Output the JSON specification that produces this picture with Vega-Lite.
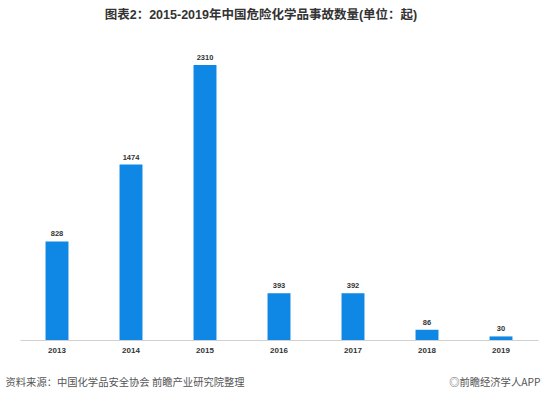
{
  "$schema": "https://vega.github.io/schema/vega-lite/v6.json",
  "width": 518,
  "height": 300,
  "autosize": "none",
  "padding": {"left": 20, "top": 40, "right": 6, "bottom": 54},
  "background": "white",
  "title": {
    "text": "图表2：2015-2019年中国危险化学品事故数量(单位：起)",
    "font": "Liberation Sans, Noto Sans CJK SC",
    "fontSize": 12.5,
    "fontWeight": "bold",
    "color": "#333333",
    "anchor": "middle",
    "dx": -18,
    "offset": 19
  },
  "config": {
    "view": {"stroke": null},
    "font": "Liberation Sans, Noto Sans CJK SC"
  },
  "data": {
    "values": [
      {"year": "2013", "count": 828},
      {"year": "2014", "count": 1474},
      {"year": "2015", "count": 2310},
      {"year": "2016", "count": 393},
      {"year": "2017", "count": 392},
      {"year": "2018", "count": 86},
      {"year": "2019", "count": 30}
    ]
  },
  "encoding": {
    "x": {
      "field": "year",
      "type": "nominal",
      "scale": {"paddingInner": 0.69, "paddingOuter": 0.345},
      "axis": {
        "labelAngle": 0,
        "labelFont": "Liberation Sans",
        "labelFontSize": 8,
        "labelFontWeight": "bold",
        "labelColor": "#333333",
        "labelPadding": 6,
        "ticks": false,
        "domainColor": "#d0d0d0",
        "title": "资料来源：中国化学品安全协会 前瞻产业研究院整理",
        "titleFont": "Noto Sans CJK SC",
        "titleFontSize": 10.3,
        "titleFontWeight": "normal",
        "titleColor": "#555555",
        "titleAnchor": "start",
        "titleAlign": "left",
        "titleBaseline": "middle",
        "titleX": -15,
        "titleY": 42
      }
    },
    "y": {
      "field": "count",
      "type": "quantitative",
      "scale": {"domain": [0, 2520], "nice": false},
      "axis": {
        "orient": "right",
        "labels": false,
        "ticks": false,
        "domain": false,
        "grid": false,
        "title": "◎前瞻经济学人APP",
        "titleFont": "Noto Sans CJK SC",
        "titleFontSize": 10.3,
        "titleFontWeight": "normal",
        "titleColor": "#555555",
        "titleAngle": 0,
        "titleAlign": "right",
        "titleBaseline": "middle",
        "titleX": 2,
        "titleY": 342
      }
    }
  },
  "layer": [
    {"mark": {"type": "bar", "color": "#0f87e4"}},
    {
      "mark": {"type": "text", "dy": -7, "fontSize": 7.5, "fontWeight": "bold", "color": "#333333", "font": "Liberation Sans"},
      "encoding": {"text": {"field": "count", "type": "quantitative"}}
    }
  ]
}
